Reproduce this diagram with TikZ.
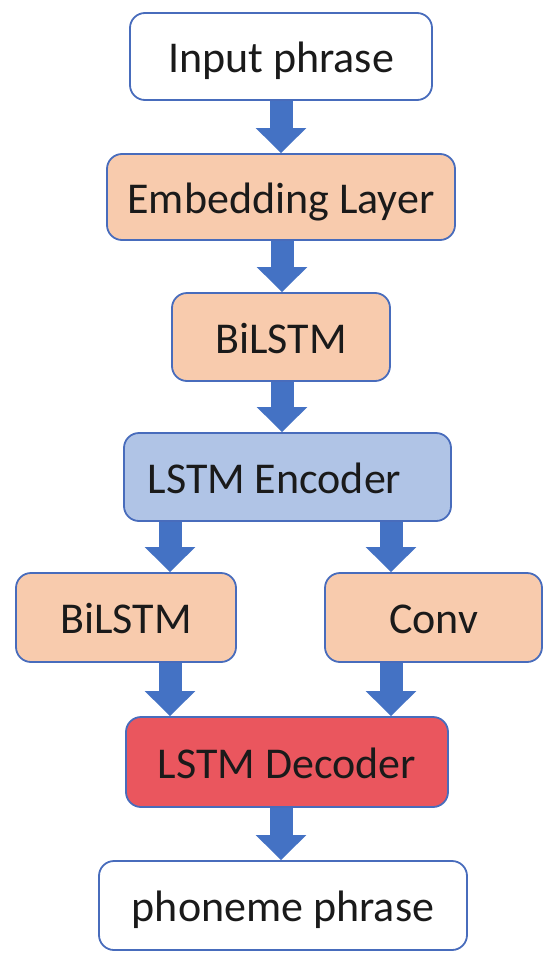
\documentclass[tikz,border=0pt]{standalone}
\usepackage{fontspec}
\setmainfont{Carlito}
\usetikzlibrary{arrows.meta,backgrounds}
\definecolor{bordc}{RGB}{72,108,188}
\definecolor{arrc}{RGB}{68,114,196}
\definecolor{orfill}{RGB}{248,203,173}
\definecolor{blfill}{RGB}{176,196,230}
\definecolor{rdfill}{RGB}{234,86,94}
\definecolor{txtc}{RGB}{26,26,26}
\tikzset{
  box/.style={draw=bordc, line width=1.8pt, rounded corners=15pt, rectangle,
    inner sep=0pt, text=txtc, font=\fontsize{44}{50}\selectfont,
    text height=40pt, text depth=8pt},
  fatarrow/.style={draw=arrc, line width=23pt,
    -{Triangle[width=49pt,length=25pt]}}
}
\begin{document}
\begin{tikzpicture}[x=1pt,y=-1pt]
\useasboundingbox (0,0) rectangle (550,969);
\node[box, fill=white, minimum width=302pt, minimum height=87pt] (in) at (281,56.5) {Input phrase};
\node[box, fill=orfill, minimum width=348pt, minimum height=86pt] (emb) at (281,197) {Embedding Layer};
\node[box, fill=orfill, minimum width=218pt, minimum height=88pt] (bil1) at (281,337) {BiLSTM};
\node[box, fill=blfill, minimum width=327pt, minimum height=88pt] (enc) at (287.5,477) {\hspace*{-26pt}LSTM Encoder};
\node[box, fill=orfill, minimum width=220pt, minimum height=89pt] (bil2) at (126,617.5) {BiLSTM};
\node[box, fill=orfill, minimum width=217pt, minimum height=89pt] (conv) at (433.5,617.5) {Conv};
\node[box, fill=rdfill, minimum width=322pt, minimum height=90pt] (dec) at (287,762) {LSTM Decoder};
\node[box, fill=white, minimum width=368pt, minimum height=89pt] (out) at (283,905.5) {phoneme phrase};
\coordinate (cl) at (170,0);
\coordinate (cr) at (391,0);
\coordinate (cm) at (281,0);
\coordinate (cm2) at (282,0);
\begin{scope}[on background layer]
\draw[fatarrow] (in.south -| cm) -- (emb.north -| cm);
\draw[fatarrow] (emb.south -| cm2) -- (bil1.north -| cm2);
\draw[fatarrow] (bil1.south -| cm2) -- (enc.north -| cm2);
\draw[fatarrow] (enc.south -| cl) -- (bil2.north -| cl);
\draw[fatarrow] (enc.south -| cr) -- (conv.north -| cr);
\draw[fatarrow] (bil2.south -| cl) -- (dec.north -| cl);
\draw[fatarrow] (conv.south -| cr) -- (dec.north -| cr);
\draw[fatarrow] (dec.south -| cm) -- (out.north -| cm);
\end{scope}
\end{tikzpicture}
\end{document}
